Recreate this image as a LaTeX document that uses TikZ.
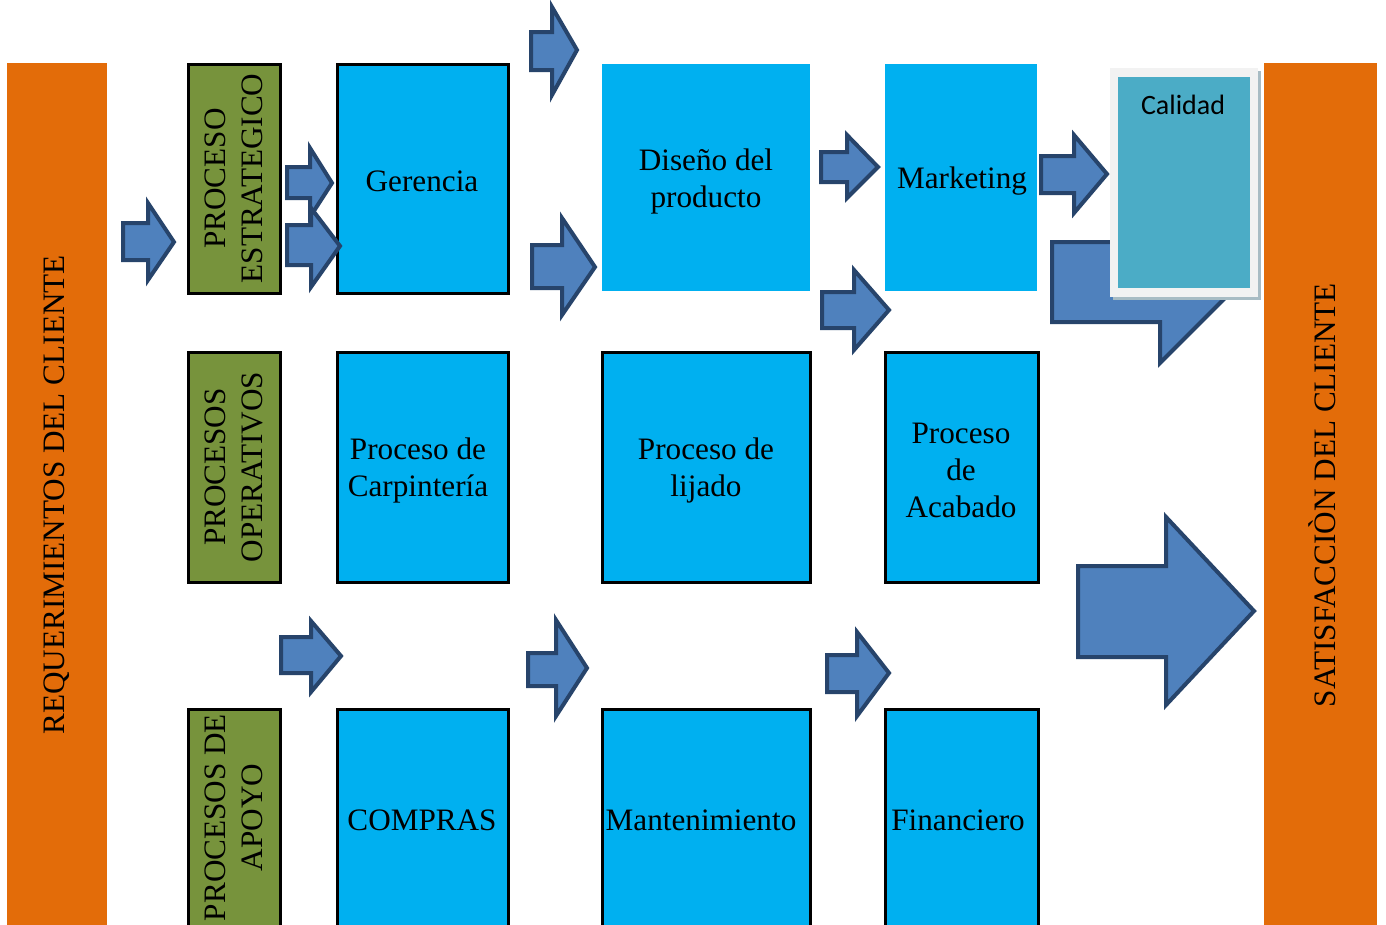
\documentclass[tikz,border=0pt]{standalone}
\usepackage{fontspec}
\setmainfont{Liberation Serif}
\newfontfamily\calfont{Carlito}
\definecolor{orng}{HTML}{E36C09}
\definecolor{olv}{HTML}{77933C}
\definecolor{cyn}{HTML}{00B0F0}
\definecolor{tealc}{HTML}{4BACC6}
\definecolor{arrfill}{HTML}{4F81BD}
\definecolor{arrline}{HTML}{27446B}
\definecolor{framec}{HTML}{F2F2F2}
\definecolor{shadc}{HTML}{A8BCC4}
\newcommand\blkarrow[8]{\draw[arrowst] (#1,#4) -- (#2,#4) -- (#2,#6) -- (#3,#8) -- (#2,#7) -- (#2,#5) -- (#1,#5) -- cycle;}
\tikzset{
  txt/.style={font={\fontsize{31.2}{37}\selectfont}, align=center, inner sep=0pt},
  bar/.style={fill=orng, draw=none, inner sep=0pt},
  greenbox/.style={fill=olv, draw=black, line width=3pt, inner sep=0pt},
  bluebox/.style={fill=cyn, draw=black, line width=3pt, inner sep=0pt},
  blueplain/.style={fill=cyn, draw=none, inner sep=0pt},
  arrowst/.style={fill=arrfill, draw=arrline, line width=4pt, line join=miter},
}
\begin{document}
\begin{tikzpicture}[x=1pt,y=-1pt]
\useasboundingbox (0,0) rectangle (1386,924);
\clip (0,0) rectangle (1386,924);
\fill[white] (0,0) rectangle (1386,924);
% side bars
\node[bar, minimum width=100pt, minimum height=880pt] (req) at (57,503) {};
\node[txt, rotate=90] (reqt) at (57,495) {REQUERIMIENTOS DEL CLIENTE};
\node[bar, minimum width=113pt, minimum height=880pt] (sat) at (1320.5,503) {};
\node[txt, rotate=90] (satt) at (1322,495) {SATISFACCIÒN DEL CLIENTE};
% green boxes
\node[greenbox, minimum width=92pt, minimum height=229pt] (g1) at (234,178.5) {};
\node[txt, rotate=90] at (g1.center) {PROCESO\\ESTRATEGICO};
\node[greenbox, minimum width=92pt, minimum height=230pt] (g2) at (234,467) {};
\node[txt, rotate=90] at (g2.center) {PROCESOS\\OPERATIVOS};
\node[greenbox, minimum width=92pt, minimum height=217pt] (g3) at (234,817.5) {};
\node[txt, rotate=90] at (g3.center) {PROCESOS DE\\APOYO};
% row 1
\node[bluebox, minimum width=171pt, minimum height=229pt] (ger) at (422.5,178.5) {};
\node[txt] at (422,181) {Gerencia};
\node[blueplain, minimum width=208pt, minimum height=227pt] (dis) at (706,177.5) {};
\node[txt] at (706,181) {Diseño del\\producto};
\node[blueplain, minimum width=152pt, minimum height=227pt] (mkt) at (961,177.5) {};
\node[txt] at (962,181) {Marketing};
% row 2
\node[bluebox, minimum width=171pt, minimum height=230pt] (car) at (422.5,467) {};
\node[txt] at (418,470) {Proceso de\\Carpintería};
\node[bluebox, minimum width=208pt, minimum height=230pt] (lij) at (706,467) {};
\node[txt] at (706,470) {Proceso de\\lijado};
\node[bluebox, minimum width=153pt, minimum height=230pt] (aca) at (961.5,467) {};
\node[txt] at (961,470) {Proceso\\de\\Acabado};
% row 3
\node[bluebox, minimum width=171pt, minimum height=217pt] (com) at (422.5,817.5) {};
\node[txt] at (422,820) {COMPRAS};
\node[bluebox, minimum width=208pt, minimum height=217pt] (man) at (706,817.5) {};
\node[txt] at (701,820) {Mantenimiento};
\node[bluebox, minimum width=153pt, minimum height=217pt] (fin) at (961.5,817.5) {};
\node[txt] at (958,820) {Financiero};
% arrows
\blkarrow{123}{148}{174}{223}{260}{203}{280}{242}
\blkarrow{287}{310}{332}{167}{198}{148}{217}{183}
\blkarrow{287}{311}{340}{225}{265}{208}{287}{246}
\blkarrow{531}{552}{577}{32}{70}{7}{95}{50}
\blkarrow{532}{562}{595}{245}{288}{218}{315}{267}
\blkarrow{821}{847}{878}{152}{182}{135}{198}{167}
\blkarrow{822}{854}{889}{292}{328}{270}{350}{310}
\blkarrow{1041}{1074}{1107}{156}{193}{135}{213}{174}
\blkarrow{1078}{1166}{1254}{566}{657}{517}{705}{611}
\blkarrow{281}{311}{341}{637}{673}{621}{692}{656}
\blkarrow{528}{556}{587}{653}{686}{620}{716}{668}
\blkarrow{827}{857}{889}{655}{692}{632}{716}{673}
% callout behind Calidad
\draw[arrowst] (1052,242) -- (1200,242) -- (1240,283) -- (1160,363) -- (1160,322) -- (1052,322) -- cycle;
% Calidad
\fill[shadc] (1113,71) rectangle (1261,300);
\node[fill=framec, draw=none, minimum width=148pt, minimum height=229pt, inner sep=0pt] (calf) at (1184,182.5) {};
\node[fill=tealc, draw=none, minimum width=132pt, minimum height=211pt, inner sep=0pt] (cal) at (calf.center) {};
\node[font={\calfont\fontsize{28}{32}\selectfont}, inner sep=0pt] at (1183,105) {Calidad};
\end{tikzpicture}
\end{document}
